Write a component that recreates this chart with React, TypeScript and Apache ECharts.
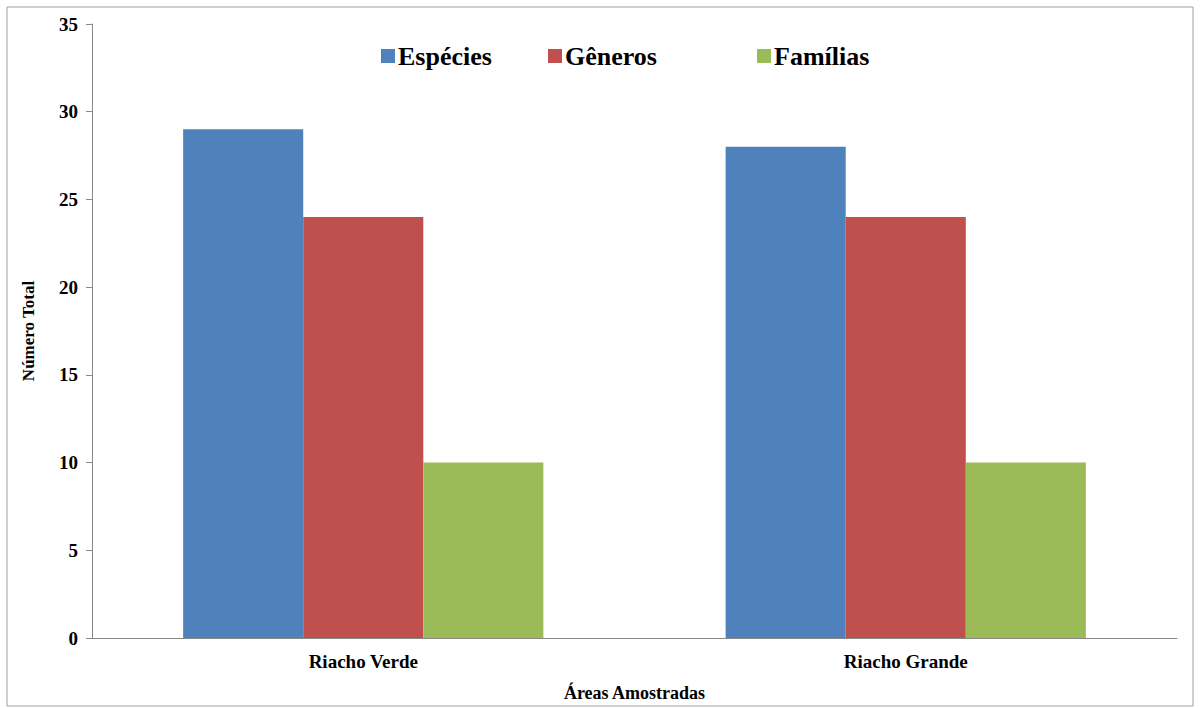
import React, { useEffect, useRef } from "react";
import * as echarts from "echarts";

const categories = ["Riacho Verde", "Riacho Grande"];
const seriesNames = ["Espécies", "Gêneros", "Famílias"];
const especies = [29, 28];
const generos = [24, 24];
const familias = [10, 10];
const colors = ["#4F81BD", "#C0504D", "#9BBB59"];

const FONT = "Liberation Serif";
const legendLefts = [376, 543, 752];

export default function App() {
  const ref = useRef<HTMLDivElement>(null);
  useEffect(() => {
    if (!ref.current) return;
    const chart = echarts.init(ref.current, null, { renderer: "svg" });
    const values = [especies, generos, familias];
    chart.setOption({
      animation: false,
      backgroundColor: "#fff",
      textStyle: { fontFamily: FONT },
      graphic: [
        {
          type: "rect",
          shape: { x: 7, y: 7, width: 1186, height: 699 },
          style: { fill: "none", stroke: "#a0a0a0", lineWidth: 1 },
          silent: true,
        },
      ],
      legend: seriesNames.map((n, i) => ({
        top: 38,
        left: legendLefts[i],
        itemWidth: 14,
        itemHeight: 14,
        icon: "rect",
        textStyle: { fontFamily: FONT, fontSize: 26, fontWeight: "bold", color: "#000", padding: [0, 0, 0, -2] },
        data: [n],
      })),
      grid: { left: 92, right: 23, top: 24, bottom: 70, containLabel: false },
      xAxis: {
        type: "category",
        data: categories,
        axisLine: { lineStyle: { color: "#888", width: 1 } },
        axisTick: { show: false },
        axisLabel: { fontFamily: FONT, fontSize: 19, fontWeight: "bold", color: "#000", margin: 14 },
        name: "Áreas Amostradas",
        nameLocation: "middle",
        nameGap: 46,
        nameTextStyle: { fontFamily: FONT, fontSize: 18, fontWeight: "bold", color: "#000" },
      },
      yAxis: {
        type: "value",
        min: 0,
        max: 35,
        interval: 5,
        splitLine: { show: false },
        axisLine: { show: true, lineStyle: { color: "#888", width: 1 } },
        axisTick: { show: true, length: 6, lineStyle: { color: "#888" } },
        axisLabel: { fontFamily: FONT, fontSize: 19, fontWeight: "bold", color: "#000", margin: 14 },
        name: "Número Total",
        nameLocation: "middle",
        nameGap: 55,
        nameRotate: 90,
        nameTextStyle: { fontFamily: FONT, fontSize: 17, fontWeight: "bold", color: "#000" },
      },
      series: seriesNames.map((n, i) => ({
        name: n,
        type: "bar",
        data: values[i],
        barGap: "0%",
        barCategoryGap: "33.6%",
        itemStyle: { color: colors[i] },
      })),
    });
    return () => chart.dispose();
  }, []);
  return <div ref={ref} style={{ width: 1200, height: 708, position: "absolute", left: 0, top: 0 }} />;
}
